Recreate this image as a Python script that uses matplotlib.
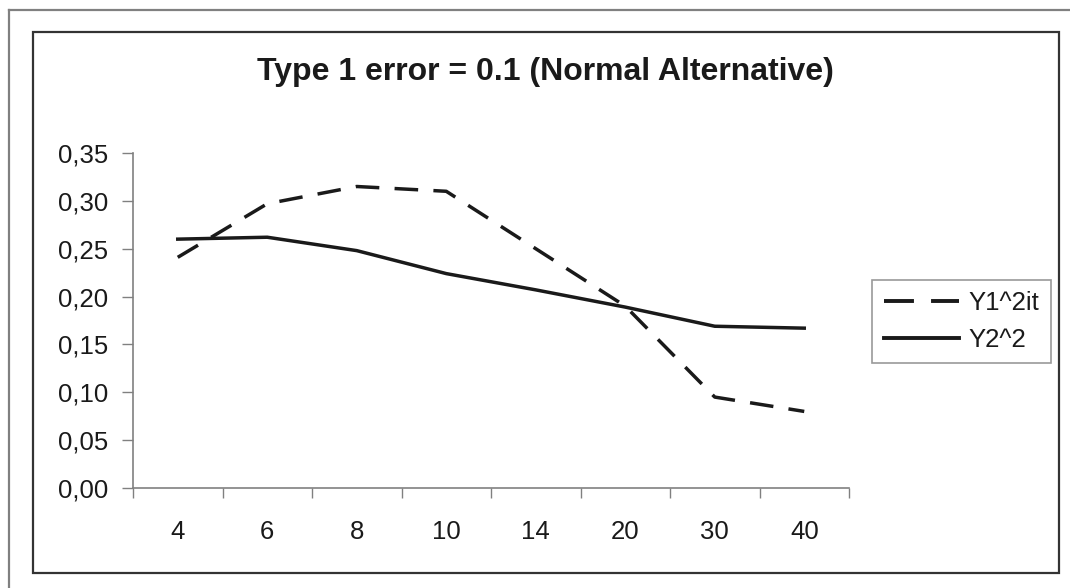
import matplotlib.pyplot as plt
from matplotlib.lines import Line2D
from matplotlib.ticker import FixedLocator, FuncFormatter

# Data
categories = ['4', '6', '8', '10', '14', '20', '30', '40']
y1_2it = [0.241, 0.297, 0.315, 0.310, 0.250, 0.190, 0.095, 0.080]
y2_2 = [0.260, 0.262, 0.248, 0.224, 0.207, 0.189, 0.169, 0.167]

plt.rcParams['font.family'] = ['Liberation Sans', 'DejaVu Sans']

W, H = 1070, 588
fig = plt.figure(figsize=(W / 100, H / 100), dpi=100)
ax = fig.add_axes([133 / W, 1 - 488 / H, (849 - 133) / W, (488 - 153) / H])

pos = list(range(len(categories)))
ax.plot(pos, y1_2it, color='#1a1a1a', lw=2.5, dashes=(6.8, 4.4), label='Y1^2it')
ax.plot(pos, y2_2, color='#1a1a1a', lw=2.5, label='Y2^2')

ax.set_xlim(-0.5, len(categories) - 0.5)
ax.set_ylim(0, 0.35)

# category axis: ticks on boundaries, labels in the middle
ax.xaxis.set_major_locator(FixedLocator([p - 0.5 for p in range(len(categories) + 1)]))
ax.xaxis.set_major_formatter(FuncFormatter(lambda v, p: ''))
ax.set_xticks(pos, minor=True)
ax.set_xticklabels(categories, minor=True)
ax.tick_params(axis='x', which='major', length=7, width=1, color='#808080', direction='out')
ax.tick_params(axis='x', which='minor', length=0, pad=23, labelsize=18.5, labelcolor='#1a1a1a')

ax.set_yticks([i * 0.05 for i in range(8)])
ax.yaxis.set_major_formatter(FuncFormatter(lambda v, p: f'{v:.2f}'.replace('.', ',')))
ax.tick_params(axis='y', length=8, width=1, color='#808080', direction='out', pad=10,
               labelsize=18.5, labelcolor='#1a1a1a')

for s in ['top', 'right']:
    ax.spines[s].set_visible(False)
for s in ['left', 'bottom']:
    ax.spines[s].set_color('#808080')
    ax.spines[s].set_linewidth(1.2)

fig.text(545 / W, 1 - 72 / H, 'Type 1 error = 0.1 (Normal Alternative)',
         ha='center', va='center', fontsize=23, fontweight='bold', color='#1a1a1a')

leg = ax.legend(loc='center left', bbox_to_anchor=(872 / W, 1 - 321.5 / H),
                bbox_transform=fig.transFigure, frameon=True, fancybox=False,
                fontsize=18.5, handlelength=2.95, handletextpad=0.35,
                borderpad=0.45, labelspacing=0.5, borderaxespad=0)
leg.get_frame().set_edgecolor('#808080')
leg.get_frame().set_linewidth(1.2)
for t in leg.get_texts():
    t.set_color('#1a1a1a')
leg.get_lines()[0].set_dashes((7.7, 4.4))
for ln in leg.get_lines():
    ln.set_linewidth(2.8)

# borders around the chart
fig.add_artist(Line2D([9 / W, 1.0], [1 - 10 / H] * 2, transform=fig.transFigure,
                      color='#808080', lw=1.6))
fig.add_artist(Line2D([9 / W] * 2, [0.0, 1 - 10 / H], transform=fig.transFigure,
                      color='#808080', lw=1.6))
fig.add_artist(plt.Rectangle((33 / W, 1 - 573 / H), (1059 - 33) / W, (573 - 32) / H,
                             transform=fig.transFigure, fill=False,
                             edgecolor='#333333', lw=1.6))

fig.savefig('out.png', dpi=100)
